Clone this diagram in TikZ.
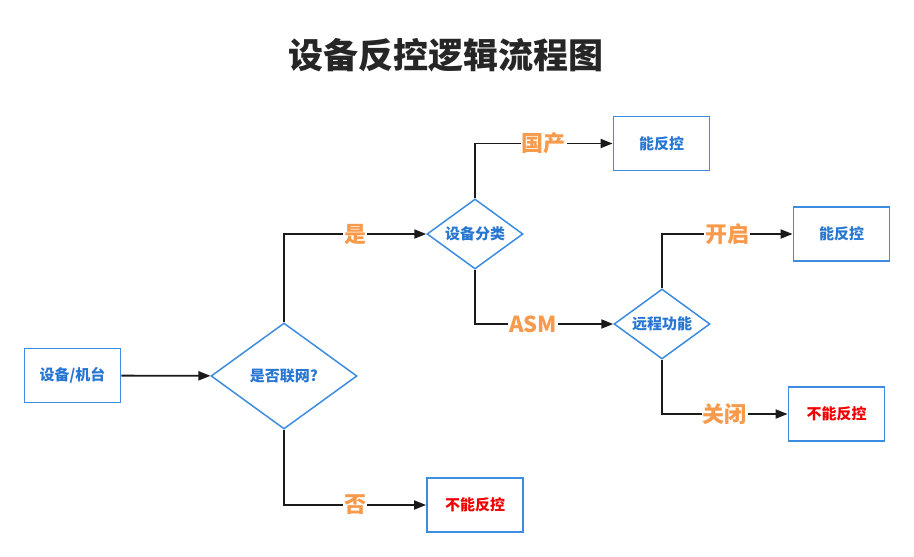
\documentclass[tikz,border=0pt]{standalone}
\usepackage{fontspec}
\setmainfont{Noto Sans CJK SC}
\usepackage{tikz}
\usetikzlibrary{shapes.geometric, arrows.meta, positioning}
\definecolor{flowBlue}{HTML}{3C8CE0}
\definecolor{flowText}{HTML}{2777D2}
\definecolor{flowOrange}{HTML}{F79A4B}
\definecolor{flowRed}{HTML}{F00000}
\definecolor{flowLine}{HTML}{1A1A1A}
\tikzset{
	arrow/.style={-{Triangle[length=12pt,width=9pt]}, line width=1.8pt, draw=flowLine},
	box/.style={draw=flowBlue, line width=1.8pt, minimum width=96pt, minimum height=54pt,
		inner sep=0pt, font=\fontsize{15pt}{17pt}\selectfont\bfseries, text=flowText},
	dec/.style={diamond, shape aspect=1.4, draw=flowBlue, line width=1.5pt, inner sep=0pt,
		font=\fontsize{15pt}{17pt}\selectfont\bfseries, text=flowText},
	lbl/.style={fill=white, inner sep=1pt, font=\fontsize{22pt}{24pt}\selectfont\bfseries, text=flowOrange}
}

\begin{document}
\begin{tikzpicture}[x=1pt, y=-1pt]
	% IMAGE SIZE
	\newcommand{\imgW}{914} \newcommand{\imgH}{557}
	\useasboundingbox (0,0) rectangle (\imgW,\imgH);
	
	% Title
	\node[font=\fontsize{35pt}{37pt}\selectfont\bfseries, text=black!85] (title) at (446,55) {设备反控逻辑流程图};
	
	% Start and first decision
	\node[box] (src) at (72.5,375.5) {设备/机台};
	\node[dec, minimum width=146pt, minimum height=106pt] (net) at (284,376) {是否联网?};
	
	% Second level
	\node[dec, minimum width=96pt, minimum height=70pt] (cls) at (475,234) {设备分类};
	\node[box, text=flowRed] (noA) at (475,505) {不能反控};
	
	% Third level
	\node[box] (okA) at (661.5,143.5) {能反控};
	\node[dec, minimum width=96pt, minimum height=70pt] (rmt) at (662,324) {远程功能};
	
	% Results
	\node[box] (okB) at (841.5,234) {能反控};
	\node[box, text=flowRed] (noB) at (836.5,414) {不能反控};
	
	% Connectors
	\draw[arrow] (src) -- (net);
	\draw[arrow] (net.north) |- node[lbl, pos=0.75] {是} (cls.west);
	\draw[arrow] (net.south) |- node[lbl, pos=0.75] {否} (noA.west);
	\draw[arrow] (cls.north) |- node[lbl, pos=0.75] {国产} (okA.west);
	\draw[arrow] (cls.south) |- node[lbl, pos=0.71] {ASM} (rmt.west);
	\draw[arrow] (rmt.north) |- node[lbl, pos=0.75] {开启} (okB.west);
	\draw[arrow] (rmt.south) |- node[lbl, pos=0.75] {关闭} (noB.west);
\end{tikzpicture}
\end{document}
